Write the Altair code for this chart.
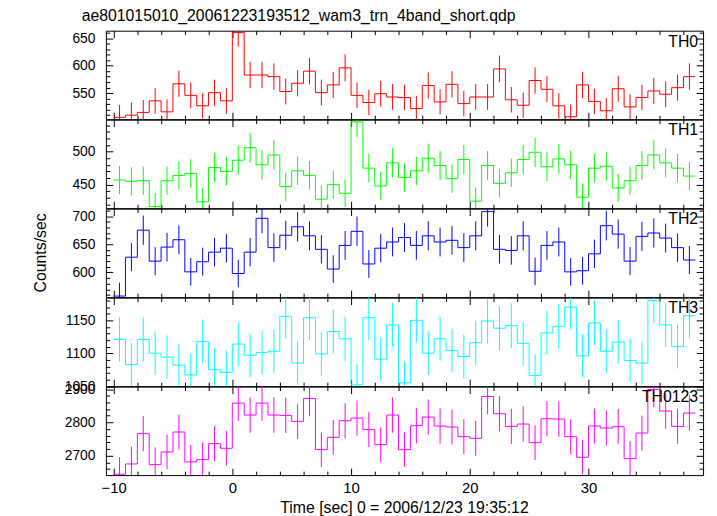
import altair as alt
import pandas as pd

# ---------------- data ----------------
bin_start = list(range(-10, 39))          # 1-s bins, left edges -10 .. 38
bin_end_last = 39

names = ["TH0", "TH1", "TH2", "TH3", "TH0123"]
colors = ["#ff0000", "#00ff00", "#0000ff", "#00ffff", "#ff00ff"]

th0 = [506, 510, 515, 536, 516, 567, 546, 527, 551, 536,
       660, 583, 583, 580, 553, 568, 590, 551, 565, 596,
       546, 533, 549, 543, 542, 522, 564, 534, 566, 531,
       543, 543, 594, 538, 528, 573, 557, 527, 507, 565,
       535, 518, 558, 525, 542, 554, 548, 560, 580]
th0_err = [22.5, 22.6, 22.7, 23.2, 22.7, 23.8, 23.4, 23.0, 23.5, 23.2,
           25.7, 24.1, 24.1, 24.1, 23.5, 23.8, 24.3, 23.5, 23.8, 24.4,
           23.4, 23.1, 23.4, 23.3, 23.3, 22.8, 23.7, 23.1, 23.8, 23.0,
           23.3, 23.3, 24.4, 23.2, 23.0, 23.9, 23.6, 23.0, 22.5, 23.8,
           23.1, 22.8, 23.6, 22.9, 23.3, 23.5, 23.4, 23.7, 24.1]

th1 = [457, 455, 456, 417, 456, 464, 467, 424, 476, 470,
       487, 506, 480, 495, 447, 471, 464, 428, 450, 437,
       545, 475, 448, 483, 461, 471, 490, 479, 459, 488,
       425, 479, 452, 468, 488, 499, 477, 489, 480, 431,
       475, 478, 445, 456, 479, 495, 483, 475, 463]
th1_err = [21.4, 21.3, 21.4, 20.4, 21.4, 21.5, 21.6, 20.6, 21.8, 21.7,
           22.1, 22.5, 21.9, 22.2, 21.1, 21.7, 21.5, 20.7, 21.2, 20.9,
           23.3, 21.8, 21.2, 22.0, 21.5, 21.7, 22.1, 21.9, 21.4, 22.1,
           20.6, 21.9, 21.3, 21.6, 22.1, 22.3, 21.8, 22.1, 21.9, 20.8,
           21.8, 21.9, 21.1, 21.4, 21.9, 22.2, 22.0, 21.8, 21.5]

th2 = [558, 627, 675, 620, 645, 658, 601, 619, 636, 643,
       598, 636, 696, 644, 666, 681, 665, 641, 606, 648,
       673, 615, 643, 654, 662, 648, 665, 654, 657, 644,
       665, 708, 641, 639, 665, 602, 648, 654, 601, 603,
       633, 683, 668, 620, 664, 670, 661, 644, 622]
th2_err = [23.6, 25.0, 26.0, 24.9, 25.4, 25.7, 24.5, 24.9, 25.2, 25.4,
           24.5, 25.2, 26.4, 25.4, 25.8, 26.1, 25.8, 25.3, 24.6, 25.5,
           25.9, 24.8, 25.4, 25.6, 25.7, 25.5, 25.8, 25.6, 25.6, 25.4,
           25.8, 26.6, 25.3, 25.3, 25.8, 24.5, 25.5, 25.6, 24.5, 24.6,
           25.2, 26.1, 25.8, 24.9, 25.8, 25.9, 25.7, 25.4, 24.9]

th3 = [1121, 1083, 1121, 1100, 1094, 1082, 1067, 1118, 1075, 1071,
       1114, 1097, 1101, 1103, 1156, 1085, 1154, 1099, 1133, 1122,
       1052, 1154, 1091, 1143, 1055, 1150, 1100, 1122, 1104, 1095,
       1116, 1149, 1138, 1142, 1115, 1066, 1131, 1141, 1170, 1096,
       1146, 1103, 1117, 1089, 1085, 1180, 1143, 1110, 1157]
th3_err = [33.5, 32.9, 33.5, 33.2, 33.1, 32.9, 32.7, 33.4, 32.8, 32.7,
           33.4, 33.1, 33.2, 33.2, 34.0, 32.9, 34.0, 33.2, 33.7, 33.5,
           32.4, 34.0, 33.0, 33.8, 32.5, 33.9, 33.2, 33.5, 33.2, 33.1,
           33.4, 33.9, 33.7, 33.8, 33.4, 32.6, 33.6, 33.8, 34.2, 33.1,
           33.9, 33.2, 33.4, 33.0, 32.9, 34.4, 33.8, 33.3, 34.0]

th0123 = [2644, 2675, 2766, 2673, 2711, 2771, 2681, 2688, 2736, 2722,
          2858, 2822, 2858, 2822, 2821, 2803, 2872, 2718, 2755, 2805,
          2813, 2778, 2733, 2822, 2718, 2790, 2816, 2789, 2786, 2757,
          2752, 2878, 2826, 2788, 2795, 2739, 2811, 2810, 2757, 2695,
          2789, 2783, 2787, 2691, 2768, 2899, 2834, 2788, 2828]
th0123_err = [51.4, 51.7, 52.6, 51.7, 52.1, 52.6, 51.8, 51.8, 52.3, 52.2,
              53.5, 53.1, 53.5, 53.1, 53.1, 52.9, 53.6, 52.1, 52.5, 53.0,
              53.0, 52.7, 52.3, 53.1, 52.1, 52.8, 53.1, 52.8, 52.8, 52.5,
              52.5, 53.6, 53.2, 52.8, 52.9, 52.3, 53.0, 53.0, 52.5, 51.9,
              52.8, 52.8, 52.8, 51.9, 52.6, 53.8, 53.2, 52.8, 53.2]

series = [th0, th1, th2, th3, th0123]
errors = [th0_err, th1_err, th2_err, th3_err, th0123_err]

y_domains = [[502.7, 663.5], [414.4, 548.4], [556.1, 713.2], [1050, 1184.5], [2641.4, 2907.5]]
y_major = [[550, 600, 650], [450, 500], [600, 650, 700], [1050, 1100, 1150], [2700, 2800, 2900]]
y_minor = [[510, 520, 530, 540, 560, 570, 580, 590, 610, 620, 630, 640, 660],
           [420, 430, 440, 460, 470, 480, 490, 510, 520, 530, 540],
           [560, 570, 580, 590, 610, 620, 630, 640, 660, 670, 680, 690, 710],
           [1060, 1070, 1080, 1090, 1110, 1120, 1130, 1140, 1160, 1170, 1180],
           [2660, 2680, 2720, 2740, 2760, 2780, 2820, 2840, 2860, 2880]]
x_domain = [-10.65, 39.65]
x_major = [-10, 0, 10, 20, 30]
x_minor = [-8, -6, -4, -2, 2, 4, 6, 8, 12, 14, 16, 18, 22, 24, 26, 28, 32, 34, 36, 38]

chart_title = "ae801015010_20061223193512_wam3_trn_4band_short.qdp"
x_title = "Time [sec] 0 = 2006/12/23 19:35:12"
y_title = "Counts/sec"

# ---------------- layout ----------------
W, H = 604, 89.5
FONT = "Liberation Sans"
MAJ, MIN = 7, 4


def ax(orient, values, size, labels=False, **kw):
    return alt.Axis(orient=orient, values=values, tickSize=size, offset=-size,
                    labels=labels, domain=False, grid=False, title=None,
                    ticks=True, tickColor="black", tickWidth=1, format="d",
                    labelOverlap=False, labelFlush=False, **kw)


def panel(k):
    vals = series[k]
    errs = errors[k]
    steps = pd.DataFrame({"t": bin_start + [bin_end_last], "rate": vals + [vals[-1]]})
    bars = pd.DataFrame({"t": [b + 0.5 for b in bin_start],
                         "lo": [v - e for v, e in zip(vals, errs)],
                         "hi": [v + e for v, e in zip(vals, errs)]})
    xs = alt.Scale(domain=x_domain, nice=False, zero=False)
    ys = alt.Scale(domain=y_domains[k], nice=False, zero=False)
    col = colors[k]
    last = k == len(series) - 1

    line = alt.Chart(steps).mark_line(interpolate="step-after", color=col,
                                      strokeWidth=1, clip=True).encode(
        x=alt.X("t:Q", scale=xs,
                axis=ax("bottom", x_major, MAJ, labels=last, labelFontSize=15,
                        labelPadding=6, labelFont=FONT, labelColor="black")),
        y=alt.Y("rate:Q", scale=ys,
                axis=ax("left", y_major[k], MAJ, labels=True, labelFontSize=14,
                        labelPadding=11, labelFont=FONT, labelColor="black")),
    )
    err = alt.Chart(bars).mark_rule(color=col, strokeWidth=1, clip=True).encode(
        x=alt.X("t:Q", scale=xs, axis=ax("bottom", x_minor, MIN)),
        y=alt.Y("lo:Q", scale=ys, axis=ax("left", y_minor[k], MIN)),
        y2="hi:Q",
    )
    frame_major = alt.Chart(steps).mark_line(opacity=0).encode(
        x=alt.X("t:Q", scale=xs, axis=ax("top", x_major, MAJ)),
        y=alt.Y("rate:Q", scale=ys, axis=ax("right", y_major[k], MAJ)),
    )
    frame_minor = alt.Chart(steps).mark_line(opacity=0).encode(
        x=alt.X("t:Q", scale=xs, axis=ax("top", x_minor, MIN)),
        y=alt.Y("rate:Q", scale=ys, axis=ax("right", y_minor[k], MIN)),
    )
    label = alt.Chart(pd.DataFrame({"name": [names[k]]})).mark_text(
        align="right", baseline="middle", fontSize=16, font=FONT, color="black"
    ).encode(x=alt.value(W - 5), y=alt.value(11), text="name:N")

    layers = [line, err, frame_major, frame_minor, label]
    if k == 0:
        layers.append(alt.Chart(pd.DataFrame({"s": [chart_title]})).mark_text(
            align="left", baseline="middle", fontSize=16, font=FONT, color="black"
        ).encode(x=alt.value(-24.5), y=alt.value(-14.5), text="s:N"))
    if k == 2:
        layers.append(alt.Chart(pd.DataFrame({"s": [y_title]})).mark_text(
            align="center", baseline="middle", fontSize=16, font=FONT, color="black",
            angle=270
        ).encode(x=alt.value(-65.5), y=alt.value(H / 2), text="s:N"))
    if last:
        layers.append(alt.Chart(pd.DataFrame({"s": [x_title]})).mark_text(
            align="center", baseline="middle", fontSize=16, font=FONT, color="black"
        ).encode(x=alt.value(W / 2), y=alt.value(H + 33), text="s:N"))

    return alt.layer(*layers).resolve_axis(x="independent", y="independent").properties(
        width=W, height=H)


chart = alt.vconcat(*[panel(k) for k in range(len(series))], spacing=0, bounds="flush").properties(
    padding={"left": 25, "top": -3, "right": 5, "bottom": 5},
    background="white",
).configure_view(stroke="black", strokeWidth=1)

chart.save("out.html", embed_options={"renderer": "svg", "actions": False})
